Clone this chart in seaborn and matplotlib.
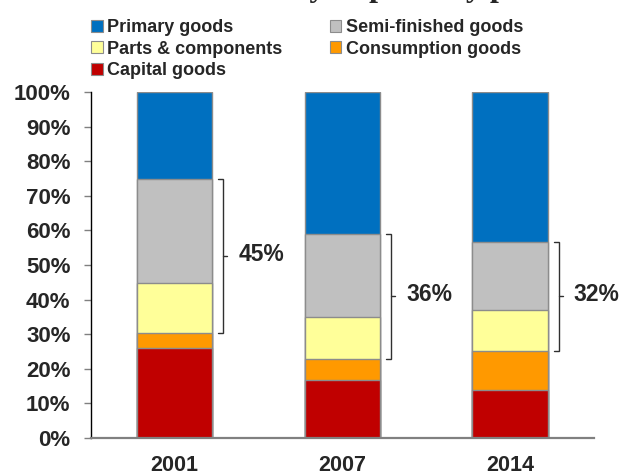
import matplotlib
matplotlib.use("Agg")
import matplotlib.pyplot as plt
from matplotlib.patches import Patch
import numpy as np
import pandas as pd
import seaborn as sns

# Share of imports by product category (percent), bottom to top of each bar
years = ["2001", "2007", "2014"]
capital = [26.0, 16.6, 13.8]
consumption = [4.3, 6.3, 11.4]
parts = [14.6, 12.1, 11.8]
semi_finished = [30.0, 23.9, 19.8]
primary = [25.1, 41.1, 43.2]

categories = ["Capital goods", "Consumption goods", "Parts & components",
              "Semi-finished goods", "Primary goods"]
colors = {"Primary goods": "#0070C0", "Semi-finished goods": "#C0C0C0",
          "Parts & components": "#FFFF99", "Consumption goods": "#FF9900",
          "Capital goods": "#C00000"}
yticks = [0, 10, 20, 30, 40, 50, 60, 70, 80, 90, 100]

sns.set_style("white")
plt.rcParams["font.family"] = ["Liberation Sans", "DejaVu Sans"]
plt.rcParams["font.weight"] = "bold"

df = pd.DataFrame({"year": years, "Capital goods": capital,
                   "Consumption goods": consumption,
                   "Parts & components": parts,
                   "Semi-finished goods": semi_finished,
                   "Primary goods": primary})
# cumulative tops for layered (stacked) bars
cum = df[categories].cumsum(axis=1)
cum["year"] = df["year"]

fig = plt.figure(figsize=(6.24, 4.75), dpi=100)
ax = fig.add_axes([0.1453, 0.0789, 0.952 - 0.1453, 0.8053 - 0.0789])

for cat in categories[::-1]:
    sns.barplot(data=cum, x="year", y=cat, color=colors[cat], width=0.45,
                edgecolor="#8c8c8c", linewidth=1.0, saturation=1, ax=ax,
                errorbar=None)

# braces spanning parts & components + semi-finished goods
for i, yr in enumerate(years):
    lo = cum.loc[i, "Consumption goods"]
    hi = cum.loc[i, "Semi-finished goods"]
    share = parts[i] + semi_finished[i]
    xb = i + 0.29
    ax.plot([xb - 0.03, xb, xb, xb - 0.03], [hi, hi, lo, lo],
            color="#303030", lw=1.0, solid_joinstyle="miter")
    mid = (hi + lo) / 2
    ax.plot([xb, xb + 0.025], [mid, mid], color="#303030", lw=1.0)
    ax.text(xb + 0.09, mid + 0.5, f"{round(share)}%", ha="left",
            va="center", fontsize=16.5, fontweight="bold")

ax.set_xlim(-0.5, 2.5)
ax.set_ylim(0, 100)
ax.set_yticks(yticks)
ax.set_yticklabels([f"{v}%" for v in yticks])
ax.set_xlabel("")
ax.set_ylabel("")
ax.tick_params(axis="y", length=5, width=1, color="#808080", pad=9.5,
               labelsize=16, direction="out", left=True)
ax.tick_params(axis="x", length=0, pad=12.5, labelsize=15.5)
for lab in ax.get_xticklabels() + ax.get_yticklabels():
    lab.set_fontweight("bold")
sns.despine(ax=ax)
ax.spines["left"].set_color("black")
ax.spines["left"].set_linewidth(1.0)
ax.spines["bottom"].set_color("#808080")
ax.spines["bottom"].set_linewidth(1.6)

legend_order = ["Primary goods", "Parts & components", "Capital goods",
                "Semi-finished goods", "Consumption goods"]
handles = [Patch(facecolor=colors[c], edgecolor="#8c8c8c", linewidth=0.8,
                 label=c) for c in legend_order]
fig.legend(handles=handles, loc="upper left", bbox_to_anchor=(0.146, 0.96),
           ncol=2, frameon=False, borderpad=0, borderaxespad=0,
           handlelength=0.65, handleheight=0.65, handletextpad=0.25,
           labelspacing=0.25, columnspacing=2.6,
           prop={"family": "Liberation Sans", "weight": "bold", "size": 13})

fig.text(210 / 624, 1 + 4 / 475, "Country imports by product",
         ha="left", va="baseline", fontsize=23, fontweight="bold",
         family=["Liberation Serif", "DejaVu Serif"])

fig.savefig("out.png", dpi=100)
